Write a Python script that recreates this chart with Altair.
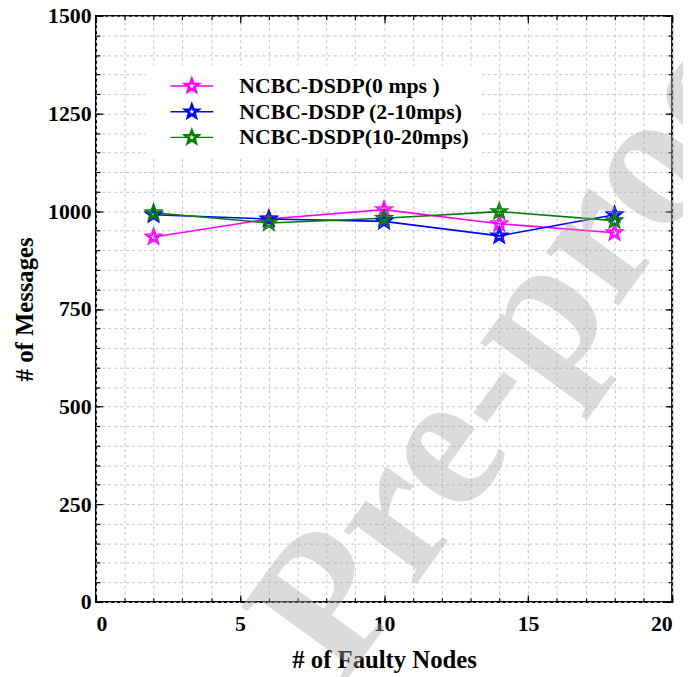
import math
import altair as alt
import pandas as pd

# ---------------- data ----------------
faulty_nodes = [2, 6, 10, 14, 18]
series_names = ["NCBC-DSDP(0 mps )", "NCBC-DSDP (2-10mps)", "NCBC-DSDP(10-20mps)"]
msgs_0mps = [934, 980, 1004, 968, 945]
msgs_2_10mps = [991, 980, 974, 937, 991]
msgs_10_20mps = [996, 970, 982, 999, 976]
series_colors = ["#ff00ff", "#0000ff", "#007f00"]

x_major = [0, 5, 10, 15, 20]
x_minor = list(range(0, 21))
y_major = [0, 250, 500, 750, 1000, 1250, 1500]
y_minor = list(range(0, 1501, 50))

watermark_text = ["Pre-proof"]

rows = []
for name, vals in zip(series_names, [msgs_0mps, msgs_2_10mps, msgs_10_20mps]):
    for xv, yv in zip(faulty_nodes, vals):
        rows.append({"series": name, "nodes": xv, "msgs": yv})
df = pd.DataFrame(rows)


# ---------------- symbols ----------------
def star_path(r_out, r_in):
    pts = []
    for k in range(10):
        ang = math.radians(-90 + 36 * k)
        r = r_out if k % 2 == 0 else r_in
        pts.append(f"{r * math.cos(ang):.3f},{r * math.sin(ang):.3f}")
    return "M" + " L".join(pts) + " Z"


STAR = star_path(1, 0.42) + " " + star_path(0.55, 0.23)
LEGEND_SYMBOL = STAR + " M-2.5,0 L-0.55,0 M0.55,0 L2.5,0"

FONT = "Liberation Serif"

xs = alt.Scale(domain=[0, 20], nice=False)
ys = alt.Scale(domain=[0, 1500], nice=False)


def axis_layer(xaxis, yaxis):
    return alt.Chart(df).mark_point(opacity=0).encode(
        x=alt.X("nodes:Q", scale=xs, axis=xaxis),
        y=alt.Y("msgs:Q", scale=ys, axis=yaxis),
    )


# grid layer
grid = axis_layer(
    alt.Axis(orient="bottom", values=x_minor, grid=True, gridDash=[3, 3], gridColor="#c4c4c4",
             gridWidth=1, labels=False, ticks=False, domain=False, title=None),
    alt.Axis(orient="left", values=y_minor, grid=True, gridDash=[3, 3], gridColor="#c4c4c4",
             gridWidth=1, labels=False, ticks=False, domain=False, title=None),
)


def tick_axis(orient, values, size):
    return alt.Axis(orient=orient, values=values, grid=False, labels=False, ticks=True,
                    tickSize=size, tickColor="black", tickWidth=1.2, offset=-size,
                    domain=False, title=None)


minor_bl = axis_layer(tick_axis("bottom", x_minor, 4), tick_axis("left", y_minor, 4))
minor_tr = axis_layer(tick_axis("top", x_minor, 4), tick_axis("right", y_minor, 4))
major_bl = axis_layer(tick_axis("bottom", x_major, 7), tick_axis("left", y_major, 7))
major_tr = axis_layer(tick_axis("top", x_major, 7), tick_axis("right", y_major, 7))

labels = axis_layer(
    alt.Axis(orient="bottom", values=x_major, format="d", grid=False, ticks=False, domain=False,
             labelFont=FONT, labelFontWeight="bold", labelFontSize=22, labelColor="black",
             labelPadding=12, title="# of Faulty Nodes", titleFont=FONT, titleFontWeight="bold",
             titleFontSize=25, titleColor="black", titlePadding=13),
    alt.Axis(orient="left", values=y_major, format="d", grid=False, ticks=False, domain=False,
             labelFont=FONT, labelFontWeight="bold", labelFontSize=22, labelColor="black",
             labelPadding=5, title="# of Messages", titleFont=FONT, titleFontWeight="bold",
             titleFontSize=25, titleColor="black", titlePadding=10),
)

color = alt.Color(
    "series:N",
    scale=alt.Scale(domain=series_names, range=series_colors),
    legend=alt.Legend(
        orient="none", legendX=50, legendY=50, title=None,
        symbolType=LEGEND_SYMBOL, symbolSize=300, symbolStrokeWidth=1.4,
        symbolOffset=26, labelOffset=37,
        labelFont=FONT, labelFontWeight="bold", labelFontSize=22, labelColor="black",
        fillColor="white", padding=10, rowPadding=3, labelLimit=400,
    ),
)

lines = alt.Chart(df).mark_line(strokeWidth=1.6).encode(
    x=alt.X("nodes:Q", scale=xs, axis=None),
    y=alt.Y("msgs:Q", scale=ys, axis=None),
    color=color,
)

points = alt.Chart(df).mark_point(shape=STAR, filled=False, fillOpacity=0, size=330,
                                  strokeWidth=1.3, opacity=1).encode(
    x=alt.X("nodes:Q", scale=xs, axis=None),
    y=alt.Y("msgs:Q", scale=ys, axis=None),
    color=color,
)

wm = alt.Chart(pd.DataFrame({"t": watermark_text})).mark_text(
    font=FONT, fontWeight="bold", fontSize=198, angle=306, align="left", baseline="alphabetic",
    color="#a8a8a8", opacity=0.4,
).encode(x=alt.value(250), y=alt.value(677), text="t:N")

chart = alt.layer(grid, minor_bl, minor_tr, major_bl, major_tr, labels, lines, points, wm).resolve_axis(
    x="independent", y="independent"
).properties(
    width=583, height=593,
    autosize=alt.AutoSizeParams(type="none"),
    padding={"left": 89, "top": 4, "right": 11, "bottom": 72},
).configure_view(stroke="black", strokeWidth=2)

chart.save("out.html", embed_options={"renderer": "svg", "actions": False})
